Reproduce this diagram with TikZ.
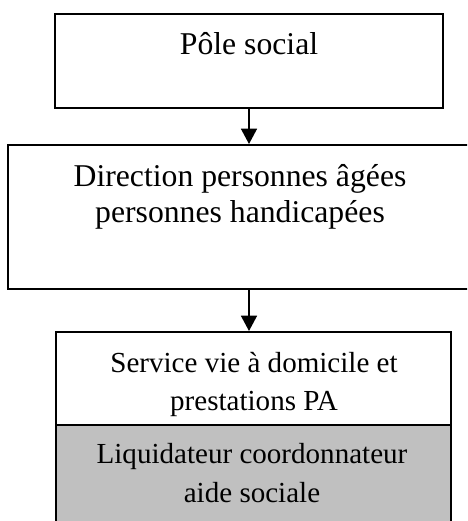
\documentclass[tikz,border=0pt]{standalone}
\usepackage{fontspec}
\setmainfont{Liberation Serif}
\usetikzlibrary{arrows.meta,positioning}

\tikzset{
  x=0.3785pt, y=-0.3785pt,
  box/.style={draw, line width=0.75pt, rectangle, inner sep=0pt},
  bigtxt/.style={font=\fontsize{12}{13.8}\selectfont, align=center, inner sep=0pt},
  smalltxt/.style={font=\fontsize{11}{14.6}\selectfont, align=center, inner sep=0pt},
  link/.style={line width=0.75pt, -{Triangle[width=6pt,length=5.8pt]}}
}

\begin{document}
\begin{tikzpicture}
  \clip (0,0) rectangle (467,521);
  \fill[white] (0,0) rectangle (467,521);

  % boxes
  \node[box, minimum width=388*0.3785pt, minimum height=94*0.3785pt] (pole) at (249,61) {};
  \node[box, minimum width=482*0.3785pt, minimum height=144*0.3785pt] (dir) at (249,217) {};
  \node[box, fill=white, minimum width=395*0.3785pt, minimum height=93*0.3785pt] (svc) at (253.5,378.5) {};
  \node[box, fill={rgb,255:red,192;green,192;blue,192}, minimum width=395*0.3785pt, minimum height=140*0.3785pt] (liq) at (253.5,495) {};

  % texts
  \node[bigtxt, anchor=base] (pole-t) at (249,54) {Pôle social};
  \node[bigtxt, anchor=base] (dir-t) at (240,186) {Direction personnes âgées};
  \node[bigtxt, anchor=base] (dir-t2) at (240,222) {personnes handicapées};
  \node[smalltxt, anchor=base] (svc-t) at (254,372) {Service vie à domicile et};
  \node[smalltxt, anchor=base] (svc-t2) at (254,410) {prestations PA};
  \node[smalltxt, anchor=base] (liq-t) at (252,463) {Liquidateur coordonnateur};
  \node[smalltxt, anchor=base] (liq-t2) at (252,502) {aide sociale};

  % arrows
  \draw[link] (pole.south) -- (pole.south |- dir.north);
  \draw[link] (dir.south) -- (dir.south |- svc.north);
\end{tikzpicture}
\end{document}
